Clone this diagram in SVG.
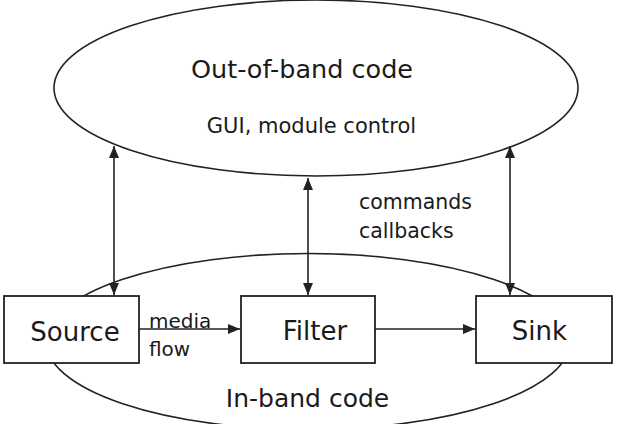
<svg xmlns="http://www.w3.org/2000/svg" width="626" height="424" viewBox="0 0 626 424">
<defs>
<style>
.shape{fill:#fff;stroke:#222;stroke-width:1.8}
.ell{fill:none;stroke:#222;stroke-width:1.6}
.conn{fill:none;stroke:#222;stroke-width:1.6}
text{font-family:"DejaVu Sans","Liberation Sans",sans-serif;fill:#1a1a1a}
.big{font-size:26px;text-anchor:middle}
.lab{font-size:20px}
</style>
<marker id="ah" viewBox="0 0 12 10" refX="12" refY="5" markerWidth="12" markerHeight="10" markerUnits="userSpaceOnUse" orient="auto-start-reverse">
<path d="M0,0 L12,5 L0,10 z" fill="#222"/>
</marker>
</defs>
<g id="out-of-band">
<ellipse class="ell" cx="316" cy="88" rx="262" ry="88"/>
<text x="302" y="78" style="font-size:25.5px;text-anchor:middle">Out-of-band code</text>
<text x="311.5" y="133" style="font-size:21px;text-anchor:middle">GUI, module control</text>
</g>
<g id="in-band">
<ellipse class="ell" cx="308" cy="341.5" rx="262" ry="88"/>
<text x="307.5" y="406.5" style="font-size:25px;text-anchor:middle">In-band code</text>
</g>
<g id="source">
<rect class="shape" x="4" y="296" width="135" height="67"/>
<text class="big" x="75" y="341">Source</text>
</g>
<g id="filter">
<rect class="shape" x="241" y="296" width="134" height="67"/>
<text class="big" x="315" y="340">Filter</text>
</g>
<g id="sink">
<rect class="shape" x="476" y="296" width="136" height="67"/>
<text class="big" x="539.5" y="340">Sink</text>
</g>
<g id="connectors">
<line class="conn" x1="114" y1="146" x2="114" y2="295" marker-start="url(#ah)" marker-end="url(#ah)"/>
<line class="conn" x1="308" y1="178" x2="308" y2="295" marker-start="url(#ah)" marker-end="url(#ah)"/>
<line class="conn" x1="510" y1="146" x2="510" y2="295" marker-start="url(#ah)" marker-end="url(#ah)"/>
<line class="conn" x1="139" y1="329" x2="240" y2="329" marker-end="url(#ah)"/>
<line class="conn" x1="375" y1="329" x2="475" y2="329" marker-end="url(#ah)"/>
<text class="lab" x="149" y="328">media</text>
<text class="lab" x="149" y="356">flow</text>
<text class="lab" x="359" y="209" style="font-size:20.5px">commands</text>
<text class="lab" x="359" y="238" style="font-size:20.5px">callbacks</text>
</g>
</svg>
